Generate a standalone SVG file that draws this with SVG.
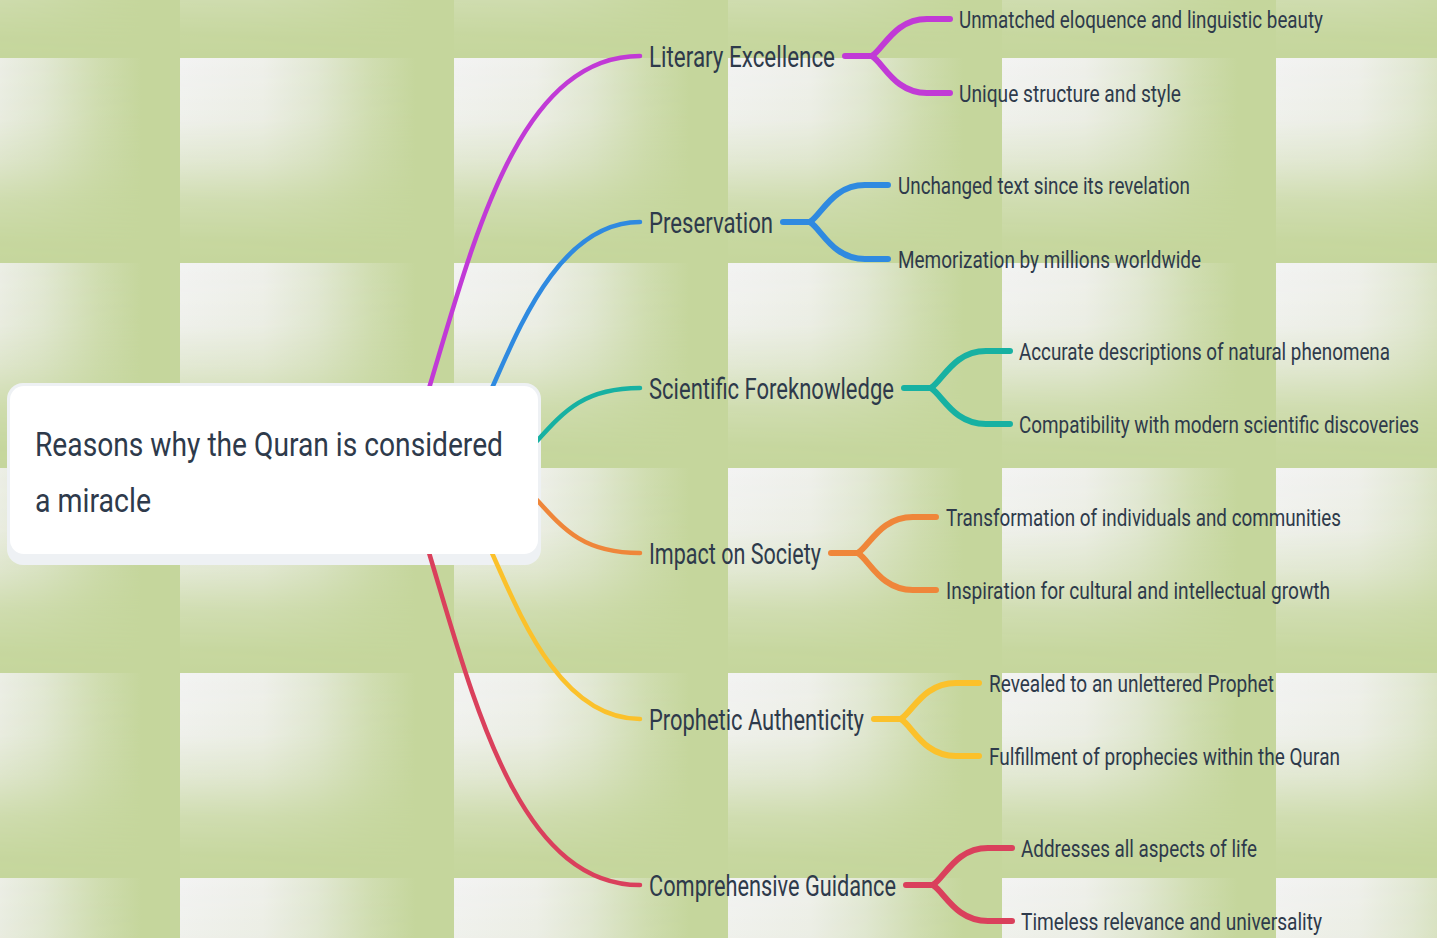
<svg xmlns="http://www.w3.org/2000/svg" width="1437" height="938" viewBox="0 0 1437 938">
<style>
.t{font-family:Roboto,"Liberation Sans",sans-serif;fill:#2e3a4b}
.root{font-size:34px}
.l1{font-size:29px}
.l2{font-size:23.5px}
.c{fill:none;stroke-linecap:round;stroke-linejoin:round}
.m{stroke-width:4.5}
.b{stroke-width:6}
.pu{stroke:#c13ad6}.bl{stroke:#2f8ae0}.te{stroke:#17b1a2}.or{stroke:#ef863a}.ye{stroke:#fbc12b}.re{stroke:#da405c}
</style>
<defs>
<linearGradient id="gh" x1="0" y1="0" x2="1" y2="0">
<stop offset="0" stop-color="#f3f3f3"/>
<stop offset="0.3" stop-color="#eff0eb"/>
<stop offset="0.5" stop-color="#e2e8d4"/>
<stop offset="0.7" stop-color="#d0ddb1"/>
<stop offset="0.86" stop-color="#c5d69c"/>
</linearGradient>
<linearGradient id="gv" x1="0" y1="0" x2="0" y2="1">
<stop offset="0" stop-color="#fff"/>
<stop offset="0.3" stop-color="#e8e8e8"/>
<stop offset="0.5" stop-color="#a3a3a3"/>
<stop offset="0.7" stop-color="#3d3d3d"/>
<stop offset="0.89" stop-color="#0a0a0a"/>
<stop offset="1" stop-color="#000"/>
</linearGradient>
<mask id="mv" maskUnits="userSpaceOnUse" x="0" y="0" width="274" height="205">
<rect width="274" height="205" fill="url(#gv)"/>
</mask>
<pattern id="bg" patternUnits="userSpaceOnUse" x="180" y="58" width="274" height="205">
<rect width="274" height="205" fill="#c5d69c"/>
<rect width="274" height="205" fill="url(#gh)" mask="url(#mv)"/>
</pattern>
</defs>
<g id="background">
<rect width="1437" height="938" fill="url(#bg)"/>
</g>
<g id="root-shadow">
<rect x="7" y="383" width="534" height="182" rx="16" fill="#eef1f4"/>
</g>
<g id="connectors">
<path class="c m pu" d="M422,412 L430,385 C475,235 520,56 640,56"/>
<path class="c m bl" d="M484,406 L492,388 C519,328 560,222 640,222"/>
<path class="c m te" d="M520,458 L537,441 C565,410 585,388 640,388"/>
<path class="c m or" d="M520,483 L537,500 C565,531 585,553 640,553"/>
<path class="c m ye" d="M484,535 L492,553 C519,613 560,719 640,719"/>
<path class="c m re" d="M422,529 L430,556 C475,706 520,885 640,885"/>

<path class="c b pu" d="M845,56 L872,56"/>
<path class="c b pu" d="M872,56 C884,48 895,19 927,19 L950,19"/>
<path class="c b pu" d="M872,56 C884,64 895,93 927,93 L950,93"/>

<path class="c b bl" d="M783,222 L810,222"/>
<path class="c b bl" d="M810,222 C822,214 833,185 865,185 L888,185"/>
<path class="c b bl" d="M810,222 C822,230 833,259 865,259 L888,259"/>

<path class="c b te" d="M904,388 L931,388"/>
<path class="c b te" d="M931,388 C943,380 954,351 986,351 L1010,351"/>
<path class="c b te" d="M931,388 C943,396 954,424 986,424 L1010,424"/>

<path class="c b or" d="M831,553 L858,553"/>
<path class="c b or" d="M858,553 C870,545 881,517 913,517 L936,517"/>
<path class="c b or" d="M858,553 C870,561 881,590 913,590 L936,590"/>

<path class="c b ye" d="M874,719 L901,719"/>
<path class="c b ye" d="M901,719 C913,711 924,683 956,683 L979,683"/>
<path class="c b ye" d="M901,719 C913,727 924,756 956,756 L979,756"/>

<path class="c b re" d="M906,885 L933,885"/>
<path class="c b re" d="M933,885 C945,877 956,848 988,848 L1012,848"/>
<path class="c b re" d="M933,885 C945,893 956,921 988,921 L1012,921"/>
</g>
<g id="root">
<rect x="10" y="386" width="528" height="168" rx="14" fill="#ffffff"/>
<text class="t root" x="35" y="456" textLength="468" lengthAdjust="spacingAndGlyphs">Reasons why the Quran is considered</text>
<text class="t root" x="35" y="512" textLength="116" lengthAdjust="spacingAndGlyphs">a miracle</text>
</g>
<g id="literary-excellence">
<text class="t l1" x="649" y="66.5" textLength="186" lengthAdjust="spacingAndGlyphs">Literary Excellence</text>
</g>
<g id="unmatched-eloquence">
<text class="t l2" x="959" y="28" textLength="364" lengthAdjust="spacingAndGlyphs">Unmatched eloquence and linguistic beauty</text>
</g>
<g id="unique-structure">
<text class="t l2" x="959" y="102" textLength="222" lengthAdjust="spacingAndGlyphs">Unique structure and style</text>
</g>
<g id="preservation">
<text class="t l1" x="649" y="232.5" textLength="124" lengthAdjust="spacingAndGlyphs">Preservation</text>
</g>
<g id="unchanged-text">
<text class="t l2" x="898" y="194" textLength="292" lengthAdjust="spacingAndGlyphs">Unchanged text since its revelation</text>
</g>
<g id="memorization">
<text class="t l2" x="898" y="268" textLength="303" lengthAdjust="spacingAndGlyphs">Memorization by millions worldwide</text>
</g>
<g id="scientific-foreknowledge">
<text class="t l1" x="649" y="398.5" textLength="245" lengthAdjust="spacingAndGlyphs">Scientific Foreknowledge</text>
</g>
<g id="accurate-descriptions">
<text class="t l2" x="1019" y="360" textLength="371" lengthAdjust="spacingAndGlyphs">Accurate descriptions of natural phenomena</text>
</g>
<g id="compatibility">
<text class="t l2" x="1019" y="433" textLength="400" lengthAdjust="spacingAndGlyphs">Compatibility with modern scientific discoveries</text>
</g>
<g id="impact-on-society">
<text class="t l1" x="649" y="563.5" textLength="172" lengthAdjust="spacingAndGlyphs">Impact on Society</text>
</g>
<g id="transformation">
<text class="t l2" x="946" y="526" textLength="395" lengthAdjust="spacingAndGlyphs">Transformation of individuals and communities</text>
</g>
<g id="inspiration">
<text class="t l2" x="946" y="599" textLength="384" lengthAdjust="spacingAndGlyphs">Inspiration for cultural and intellectual growth</text>
</g>
<g id="prophetic-authenticity">
<text class="t l1" x="649" y="729.5" textLength="215" lengthAdjust="spacingAndGlyphs">Prophetic Authenticity</text>
</g>
<g id="revealed">
<text class="t l2" x="989" y="692" textLength="285" lengthAdjust="spacingAndGlyphs">Revealed to an unlettered Prophet</text>
</g>
<g id="fulfillment">
<text class="t l2" x="989" y="765" textLength="351" lengthAdjust="spacingAndGlyphs">Fulfillment of prophecies within the Quran</text>
</g>
<g id="comprehensive-guidance">
<text class="t l1" x="649" y="895.5" textLength="247" lengthAdjust="spacingAndGlyphs">Comprehensive Guidance</text>
</g>
<g id="addresses-all-aspects">
<text class="t l2" x="1021" y="857" textLength="236" lengthAdjust="spacingAndGlyphs">Addresses all aspects of life</text>
</g>
<g id="timeless-relevance">
<text class="t l2" x="1021" y="930" textLength="301" lengthAdjust="spacingAndGlyphs">Timeless relevance and universality</text>
</g>
</svg>
